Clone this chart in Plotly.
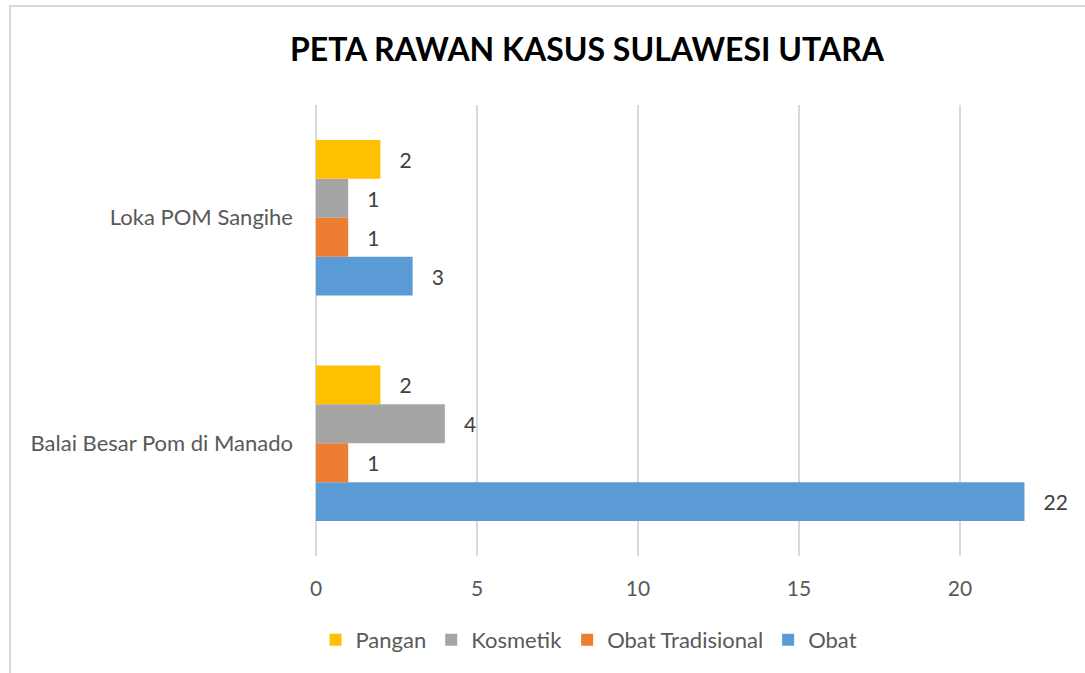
import plotly.graph_objects as go

categories = ["Balai Besar Pom di Manado", "Loka POM Sangihe"]
series_names = ["Obat", "Obat Tradisional", "Kosmetik", "Pangan"]
obat = [22, 3]
obat_tradisional = [1, 1]
kosmetik = [4, 1]
pangan = [2, 2]
values = [obat, obat_tradisional, kosmetik, pangan]
colors = ["#5B9BD5", "#ED7D31", "#A5A5A5", "#FFC000"]
x_ticks = [0, 5, 10, 15, 20]

FONT = "Lato, 'Open Sans', sans-serif"

fig = go.Figure()
for name, vals, col in zip(series_names, values, colors):
    fig.add_trace(go.Bar(
        y=categories, x=vals, name=name, orientation="h",
        marker=dict(color=col, line=dict(width=0)),
        text=["   " + str(v) for v in vals], textposition="outside",
        textfont=dict(size=21, color="#404040", family=FONT),
        cliponaxis=False,
    ))

fig.update_layout(
    width=1085, height=673,
    barmode="group", bargap=0.31, bargroupgap=0,
    plot_bgcolor="white", paper_bgcolor="white",
    margin=dict(l=316, r=0, t=105, b=117),
    font=dict(family=FONT, color="#595959", size=22),
    title=dict(text="<b>PETA RAWAN KASUS SULAWESI UTARA</b>",
               font=dict(size=32, color="#000000", family=FONT),
               x=587/1085, xref="container", xanchor="center",
               y=1-50/673, yref="container", yanchor="middle"),
    legend=dict(orientation="h", traceorder="reversed",
                x=589/1085, xref="container", xanchor="center",
                y=1-640/673, yref="container", yanchor="middle",
                font=dict(size=22, color="#595959"),
                itemwidth=30),
    xaxis=dict(range=[0, 23.88], tickvals=x_ticks, showgrid=True,
               gridcolor="#D9D9D9", gridwidth=1.5, zeroline=True,
               zerolinecolor="#D9D9D9", zerolinewidth=1.5, showline=False,
               ticks="", ticklabelstandoff=18,
               tickfont=dict(size=21, color="#595959")),
    yaxis=dict(range=[-0.5, 1.5], showgrid=False, zeroline=False, showline=False,
               ticks="", ticklabelstandoff=22,
               tickfont=dict(size=22, color="#595959")),
    shapes=[dict(type="rect", xref="paper", yref="paper",
                 x0=(10-316)/769, x1=1.05, y0=-0.5, y1=1+(105-6)/451,
                 line=dict(color="#D9D9D9", width=2), fillcolor="rgba(0,0,0,0)",
                 layer="below")],
)

fig.write_html("out.html", config={"displayModeBar": False},
               post_script="document.body.style.margin='0px';document.body.style.overflow='hidden';")
